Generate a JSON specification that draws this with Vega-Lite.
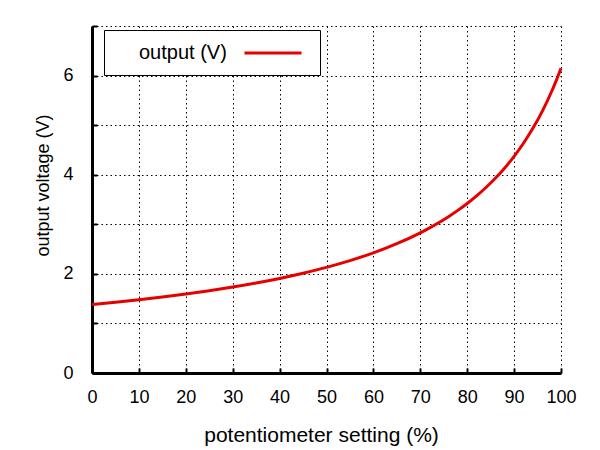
{
  "$schema": "https://vega.github.io/schema/vega-lite/v6.json",
  "autosize": "none",
  "width": 469,
  "height": 347,
  "padding": {"left": 92, "top": 26, "right": 39, "bottom": 77},
  "background": "white",
  "data": {
    "values": [
      {"setting": 0, "voltage": 1.380, "series": "output (V)"},
      {"setting": 5, "voltage": 1.426, "series": "output (V)"},
      {"setting": 10, "voltage": 1.477, "series": "output (V)"},
      {"setting": 15, "voltage": 1.532, "series": "output (V)"},
      {"setting": 20, "voltage": 1.593, "series": "output (V)"},
      {"setting": 25, "voltage": 1.660, "series": "output (V)"},
      {"setting": 30, "voltage": 1.734, "series": "output (V)"},
      {"setting": 35, "voltage": 1.816, "series": "output (V)"},
      {"setting": 40, "voltage": 1.908, "series": "output (V)"},
      {"setting": 45, "voltage": 2.013, "series": "output (V)"},
      {"setting": 50, "voltage": 2.131, "series": "output (V)"},
      {"setting": 55, "voltage": 2.267, "series": "output (V)"},
      {"setting": 60, "voltage": 2.424, "series": "output (V)"},
      {"setting": 65, "voltage": 2.609, "series": "output (V)"},
      {"setting": 70, "voltage": 2.828, "series": "output (V)"},
      {"setting": 72, "voltage": 2.928, "series": "output (V)"},
      {"setting": 74, "voltage": 3.036, "series": "output (V)"},
      {"setting": 76, "voltage": 3.153, "series": "output (V)"},
      {"setting": 78, "voltage": 3.281, "series": "output (V)"},
      {"setting": 80, "voltage": 3.420, "series": "output (V)"},
      {"setting": 82, "voltage": 3.573, "series": "output (V)"},
      {"setting": 84, "voltage": 3.742, "series": "output (V)"},
      {"setting": 86, "voltage": 3.929, "series": "output (V)"},
      {"setting": 88, "voltage": 4.137, "series": "output (V)"},
      {"setting": 90, "voltage": 4.371, "series": "output (V)"},
      {"setting": 92, "voltage": 4.635, "series": "output (V)"},
      {"setting": 94, "voltage": 4.935, "series": "output (V)"},
      {"setting": 96, "voltage": 5.279, "series": "output (V)"},
      {"setting": 98, "voltage": 5.679, "series": "output (V)"},
      {"setting": 99, "voltage": 5.904, "series": "output (V)"},
      {"setting": 100, "voltage": 6.148, "series": "output (V)"}
    ]
  },
  "mark": {"type": "line", "strokeWidth": 3, "interpolate": "monotone"},
  "encoding": {
    "x": {
      "field": "setting",
      "type": "quantitative",
      "title": "potentiometer setting (%)",
      "scale": {"domain": [0, 100], "nice": false, "zero": false},
      "axis": {
        "values": [0, 10, 20, 30, 40, 50, 60, 70, 80, 90, 100],
        "labelFlush": false,
        "labelOverlap": false,
        "labelPadding": 20,
        "titlePadding": 18,
        "titleFontSize": 21,
        "titleX": 229
      }
    },
    "y": {
      "field": "voltage",
      "type": "quantitative",
      "title": "output voltage (V)",
      "scale": {"domain": [0, 7], "nice": false},
      "axis": {
        "values": [0, 1, 2, 3, 4, 5, 6, 7],
        "labelExpr": "datum.value % 2 === 0 && datum.value < 7 ? datum.label : ''",
        "labelFlush": false,
        "labelPadding": 24,
        "titlePadding": 10,
        "titleY": 159
      }
    },
    "color": {
      "field": "series",
      "type": "nominal",
      "scale": {"range": ["#e60000"]},
      "legend": {
        "orient": "none",
        "legendX": 12,
        "legendY": 4,
        "title": null,
        "symbolType": "M-3,0H3",
        "symbolSize": 361,
        "symbolStrokeWidth": 3,
        "symbolOffset": 146,
        "labelOffset": -145,
        "labelFontSize": 20,
        "labelFont": "Liberation Sans",
        "labelColor": "black",
        "strokeColor": "black",
        "fillColor": "white",
        "padding": 12
      }
    }
  },
  "config": {
    "font": "Liberation Sans",
    "view": {"stroke": null},
    "axis": {
      "domainColor": "black",
      "domainWidth": 3,
      "tickColor": "black",
      "tickWidth": 2,
      "tickSize": -5,
      "labelColor": "black",
      "labelFontSize": 18,
      "labelFont": "Liberation Sans",
      "titleColor": "black",
      "titleFontSize": 18,
      "titleFont": "Liberation Sans",
      "titleFontWeight": "normal",
      "gridColor": "black",
      "gridOpacity": 1,
      "gridWidth": 1,
      "gridDash": [1.5, 3]
    }
  }
}
